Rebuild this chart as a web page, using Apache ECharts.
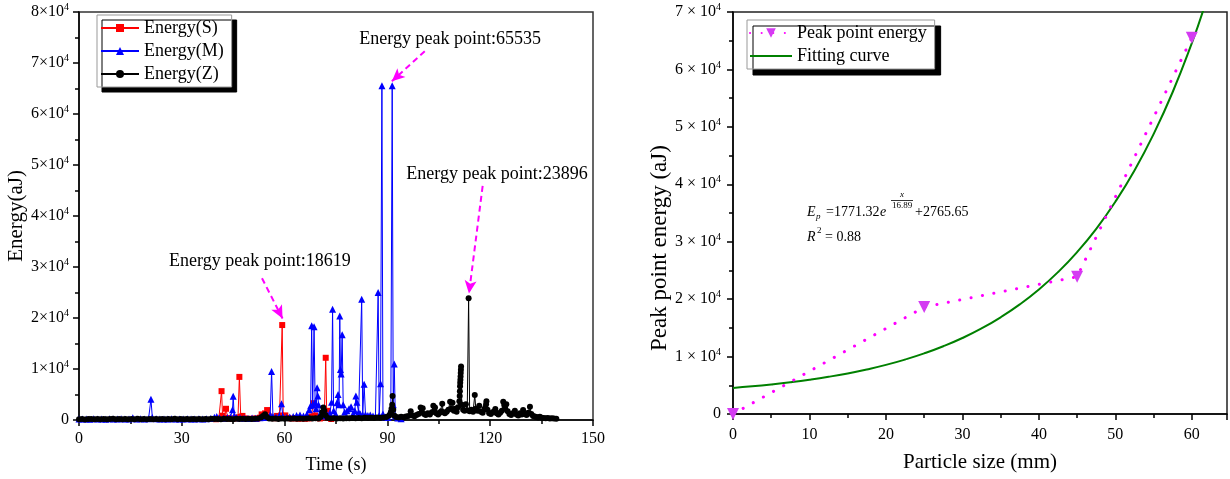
<!DOCTYPE html>
<html>
<head>
<meta charset="utf-8">
<title>Energy peak points and fitting curve</title>
<script src="https://cdn.jsdelivr.net/npm/echarts@6/dist/echarts.min.js"></script>
<style>
  html, body { margin: 0; padding: 0; background: #fff; }
  #chart { width: 1230px; height: 479px; }
</style>
</head>
<body>
<div id="chart"></div>
<script>
const FONT = 'Liberation Serif';

// Energy recorded by each channel: [time (s), energy (aJ)]
const energyS = [
  [40.0, 150], [40.8, 250], [41.3, 300], [41.6, 5660], [41.9, 850], [42.4, 300], [42.9, 2200], [43.4, 400],
  [44.2, 250], [45.0, 300], [45.8, 350], [46.4, 500], [46.8, 8450], [47.2, 600], [47.7, 800], [48.3, 300],
  [49.2, 250], [50.1, 200], [51.0, 300], [52.0, 250], [52.8, 450], [53.3, 1100], [53.8, 600], [54.3, 1300],
  [54.9, 1950], [55.4, 700], [56.2, 400], [57.0, 350], [57.8, 800], [58.5, 600], [59.0, 900], [59.3, 18619],
  [59.6, 700], [60.2, 900], [61.0, 400], [62.0, 300], [63.0, 350], [64.0, 250], [65.0, 300], [66.0, 250],
  [67.0, 300], [67.8, 700], [68.4, 3300], [68.9, 900], [69.5, 400], [70.3, 300], [71.0, 500], [71.6, 800],
  [72.0, 12200], [72.3, 900], [72.6, 1800], [73.0, 400], [73.6, 200]
];

const energyM = [
  [0.0, 200], [1.0, 180], [2.1, 220], [3.2, 160], [4.3, 240], [5.5, 190], [6.6, 210], [7.8, 170],
  [8.9, 230], [10.0, 200], [11.2, 180], [12.3, 250], [13.4, 190], [14.6, 210], [15.7, 420], [16.8, 200],
  [18.0, 230], [19.1, 190], [20.3, 260], [21.0, 4050], [21.4, 500], [22.5, 230], [23.6, 200], [24.8, 210],
  [25.9, 190], [27.0, 250], [28.2, 200], [29.3, 220], [30.4, 180], [31.6, 240], [32.7, 200], [33.8, 190],
  [35.0, 230], [36.1, 210], [37.2, 250], [38.4, 300], [39.5, 550], [40.2, 700], [41.0, 400], [42.2, 350],
  [43.3, 500], [44.2, 600], [44.8, 2000], [45.0, 4650], [45.3, 800], [46.0, 500], [47.0, 400], [48.2, 350],
  [49.3, 300], [50.5, 400], [51.6, 350], [52.8, 450], [54.0, 500], [55.0, 600], [55.8, 1000], [56.2, 9500],
  [56.6, 700], [57.5, 600], [58.4, 800], [59.1, 3200], [59.5, 700], [60.5, 500], [61.5, 600], [62.5, 700],
  [63.5, 900], [64.5, 1000], [65.5, 800], [66.5, 1100], [67.2, 2000], [67.6, 2800], [67.9, 18500], [68.2, 3000],
  [68.6, 18300], [68.9, 3500], [69.2, 2200], [69.5, 6300], [69.7, 4700], [69.9, 3000], [70.3, 1200], [71.0, 1500],
  [71.8, 800], [72.5, 1000], [73.2, 1300], [73.7, 3500], [74.0, 21700], [74.3, 1800], [74.9, 1200], [75.3, 3400],
  [75.6, 5000], [75.9, 3000], [76.1, 20400], [76.3, 9900], [76.5, 9000], [76.8, 16700], [77.1, 3000], [77.5, 1500],
  [78.2, 1800], [78.8, 2200], [79.4, 2600], [80.0, 1200], [80.5, 1800], [80.8, 4700], [81.1, 3500], [81.6, 1500],
  [82.1, 1200], [82.5, 23700], [82.8, 1000], [83.2, 7000], [83.6, 1100], [84.3, 900], [85.0, 1000], [85.8, 800],
  [86.5, 700], [87.3, 25000], [87.6, 900], [88.0, 7100], [88.4, 65535], [88.7, 1200], [89.4, 600], [90.2, 500],
  [91.0, 2000], [91.4, 65535], [91.7, 3000], [92.0, 11000], [92.3, 800], [93.0, 400], [94.0, 250]
];

const energyZ = [
  [0.0, 150], [0.9, 200], [1.8, 120], [2.7, 180], [3.6, 220], [4.5, 140], [5.4, 190], [6.3, 160],
  [7.2, 210], [8.1, 130], [9.0, 180], [9.9, 240], [10.8, 150], [11.7, 200], [12.6, 170], [13.5, 220],
  [14.4, 140], [15.3, 190], [16.2, 160], [17.1, 230], [18.0, 150], [18.9, 200], [19.8, 170], [20.7, 210],
  [21.6, 140], [22.5, 190], [23.4, 160], [24.3, 220], [25.2, 150], [26.1, 200], [27.0, 170], [27.9, 230],
  [28.8, 140], [29.7, 190], [30.6, 160], [31.5, 210], [32.4, 150], [33.3, 200], [34.2, 170], [35.1, 220],
  [36.0, 150], [36.9, 190], [37.8, 160], [38.7, 230], [39.6, 180], [40.5, 210], [41.4, 170], [42.3, 240],
  [43.2, 190], [44.1, 220], [45.0, 170], [45.9, 250], [46.8, 200], [47.7, 230], [48.6, 180], [49.5, 260],
  [50.4, 210], [51.3, 240], [52.2, 300], [53.1, 500], [53.7, 800], [54.3, 1150], [54.8, 600], [55.5, 300],
  [56.4, 250], [57.3, 280], [58.2, 220], [59.1, 300], [60.0, 250], [60.9, 280], [61.8, 230], [62.7, 300],
  [63.6, 260], [64.5, 310], [65.4, 250], [66.3, 290], [67.2, 320], [68.1, 280], [69.0, 350], [69.9, 300],
  [70.5, 600], [71.0, 1500], [71.3, 2450], [71.6, 1800], [72.0, 900], [72.6, 400], [73.5, 300], [74.4, 350],
  [75.3, 280], [76.2, 330], [77.1, 300], [78.0, 350], [78.9, 320], [79.8, 380], [80.7, 340], [81.6, 400],
  [82.5, 360], [83.4, 420], [84.3, 380], [85.2, 450], [86.1, 400], [87.0, 480], [87.9, 430], [88.8, 500],
  [89.7, 600], [90.5, 900], [91.0, 1500], [91.2, 2200], [91.4, 3000], [91.5, 4700], [91.7, 2000], [92.0, 900],
  [92.6, 600], [93.3, 500], [94.0, 650], [94.7, 550], [95.4, 700], [96.1, 800], [96.8, 1700], [97.3, 900],
  [97.9, 750], [98.5, 1000], [99.1, 1200], [99.7, 2450], [100.0, 1500], [100.3, 2300], [100.7, 1200], [101.2, 1000],
  [101.8, 1300], [102.4, 1100], [103.0, 1500], [103.4, 2770], [103.7, 1800], [103.9, 2450], [104.3, 1300], [104.8, 1100],
  [105.3, 1400], [105.7, 1700], [106.0, 3200], [106.3, 1500], [106.8, 1300], [107.3, 1600], [107.8, 2000], [108.3, 3600],
  [108.6, 2200], [109.0, 3400], [109.4, 1800], [109.8, 2200], [110.2, 1600], [110.6, 2500], [111.0, 3700], [111.1, 4700],
  [111.15, 5650], [111.2, 6600], [111.25, 7300], [111.3, 7900], [111.35, 8550], [111.4, 9200], [111.45, 9850], [111.5, 10500],
  [111.7, 3000], [112.1, 2000], [112.5, 1800], [112.9, 3100], [113.3, 1900], [113.7, 23896], [114.0, 1700], [114.5, 2000],
  [115.0, 1600], [115.5, 4900], [115.8, 2200], [116.3, 1800], [116.8, 2800], [117.3, 1600], [117.8, 1400], [118.3, 2100],
  [118.6, 2450], [118.8, 3100], [118.9, 3700], [119.2, 2000], [119.7, 1300], [120.2, 1200], [120.7, 1500], [121.2, 1700],
  [121.5, 2150], [121.9, 1300], [122.4, 1100], [122.9, 1400], [123.4, 1800], [123.8, 3600], [124.1, 2950], [124.4, 2200],
  [124.7, 3100], [125.1, 1700], [125.6, 1200], [126.1, 1000], [126.6, 1300], [127.2, 1800], [127.7, 1100], [128.2, 900],
  [128.7, 1300], [129.2, 1100], [129.6, 1950], [130.1, 1200], [130.6, 1000], [131.1, 1400], [131.6, 2600], [132.0, 1200],
  [132.5, 800], [133.0, 700], [133.5, 600], [134.0, 500], [134.5, 650], [135.0, 450], [135.6, 400], [136.2, 350],
  [136.8, 380], [137.4, 300], [138.0, 320], [138.6, 280], [139.3, 250]
];

// Peak point energy against particle size
const particleSize = [0, 25, 45, 60];
const peakEnergy = [0, 18619, 23896, 65535];

// Fitting curve sampled along particle size
const fitSize = [0, 2.5, 5, 7.5, 10, 12.5, 15, 17.5, 20, 22.5, 25, 27.5, 30, 32.5, 35, 37.5, 40, 42.5, 45, 47.5, 50, 52.5, 55, 57.5, 60, 61.5];
const fitEnergy = [4540, 4820, 5150, 5530, 5970, 6480, 7070, 7760, 8550, 9480, 10550, 11790, 13230, 14900,
  16840, 19080, 21680, 24700, 28200, 32250, 36960, 42410, 48740, 56070, 64580, 70320];

// Peak annotations on the time chart: label centre, arrow start, arrow tip (data units)
const peakNotes = [
  { series: 0, text: 'Energy peak point:18619', at: [52.8, 31100], from: [53.4, 27800], to: [59.4, 19900] },
  { series: 1, text: 'Energy peak point:65535', at: [108.3, 74600], from: [100.9, 72300], to: [91.3, 66400] },
  { series: 2, text: 'Energy peak point:23896', at: [122.0, 48100], from: [117.8, 45900], to: [113.8, 24800] }
];

const SERIES_NAMES = ['Energy(S)', 'Energy(M)', 'Energy(Z)'];
const SERIES_COLORS = ['#ff0000', '#0000ff', '#000000'];
const SERIES_SYMBOLS = ['rect', 'triangle', 'circle'];
const SERIES_DATA = [energyS, energyM, energyZ];

function sciLabel(sep) {
  return function (v) {
    if (v === 0) return '0';
    return (v / 10000) + sep + '×' + sep + '10{sup|4}';
  };
}

const axisText = { fontFamily: FONT, color: '#000' };
const lineStyleAxis = { color: '#000', width: 1.5 };

function valueAxis(extra) {
  return Object.assign({
    type: 'value',
    nameLocation: 'middle',
    nameTextStyle: Object.assign({}, axisText, { fontSize: 18 }),
    axisLine: { show: true, onZero: false, lineStyle: lineStyleAxis },
    axisTick: { show: true, inside: false, length: 6, lineStyle: lineStyleAxis },
    minorTick: { show: true, splitNumber: 2, length: 4, lineStyle: lineStyleAxis },
    splitLine: { show: false },
    minorSplitLine: { show: false }
  }, extra);
}

const timeSeries = SERIES_DATA.map((data, i) => {
  const notes = peakNotes.filter(n => n.series === i);
  return {
    name: SERIES_NAMES[i],
    type: 'line',
    xAxisIndex: 0,
    yAxisIndex: 0,
    data: data,
    symbol: SERIES_SYMBOLS[i],
    symbolSize: i === 1 ? 7 : 6,
    showSymbol: true,
    showAllSymbol: true,
    color: SERIES_COLORS[i],
    lineStyle: { width: 1, color: SERIES_COLORS[i] },
    itemStyle: { color: SERIES_COLORS[i] },
    z: 2 + i,
    markLine: {
      silent: true,
      symbol: ['none', 'arrow'],
      symbolSize: [9, 13],
      lineStyle: { color: '#ff00ff', type: [6, 4], width: 2 },
      label: { show: false },
      data: notes.map(n => [{ coord: n.from }, { coord: n.to }])
    },
    markPoint: {
      silent: true,
      symbol: 'rect',
      symbolSize: 1,
      itemStyle: { color: 'rgba(0,0,0,0)' },
      label: { show: true, position: 'inside', color: '#000', fontFamily: FONT, fontSize: 18 },
      data: notes.map(n => ({ coord: n.at, label: { formatter: n.text } }))
    }
  };
});

const chart = echarts.init(document.getElementById('chart'), null, { renderer: 'canvas' });

chart.setOption({
  animation: false,
  backgroundColor: '#fff',
  grid: [
    { left: 79, right: 637, top: 12, bottom: 53, show: true, borderColor: '#333', borderWidth: 1.5, backgroundColor: 'transparent' },
    { left: 733, right: 0, top: 12, bottom: 65, show: true, borderColor: '#222', borderWidth: 1.5, backgroundColor: 'transparent' }
  ],
  legend: [
    {
      data: SERIES_NAMES,
      orient: 'vertical',
      left: 97, top: 15,
      itemWidth: 38, itemHeight: 10, itemGap: 5,
      padding: [4, 8, 4, 3],
      textStyle: { fontFamily: FONT, fontSize: 18, color: '#000' },
      backgroundColor: '#fff',
      borderColor: '#999', borderWidth: 1,
      shadowColor: '#000', shadowBlur: 0, shadowOffsetX: 5, shadowOffsetY: 5
    },
    {
      data: ['Peak point energy', { name: 'Fitting curve', itemStyle: { opacity: 0 } }],
      orient: 'vertical',
      left: 747, top: 20,
      itemWidth: 42, itemHeight: 12, itemGap: 5,
      padding: [4, 8, 4, 2],
      textStyle: { fontFamily: FONT, fontSize: 18, color: '#000' },
      backgroundColor: '#fff',
      borderColor: '#999', borderWidth: 1,
      shadowColor: '#000', shadowBlur: 0, shadowOffsetX: 6, shadowOffsetY: 6
    }
  ],
  xAxis: [
    valueAxis({
      gridIndex: 0, min: 0, max: 150, interval: 30,
      name: 'Time (s)', nameGap: 36,
      axisLabel: Object.assign({}, axisText, { fontSize: 16, margin: 11 })
    }),
    valueAxis({
      gridIndex: 1, min: 0, max: 64.6, interval: 10,
      name: 'Particle size (mm)', nameGap: 38,
      nameTextStyle: Object.assign({}, axisText, { fontSize: 21 }),
      axisLabel: Object.assign({}, axisText, {
        fontSize: 16, margin: 13,
        formatter: v => (v % 10 === 0 ? String(v) : '')
      })
    })
  ],
  yAxis: [
    valueAxis({
      gridIndex: 0, min: 0, max: 80000, interval: 10000,
      name: 'Energy(aJ)', nameGap: 50,
      nameTextStyle: Object.assign({}, axisText, { fontSize: 21 }),
      axisLabel: Object.assign({}, axisText, {
        fontSize: 16, margin: 10,
        formatter: sciLabel(''),
        rich: { sup: { fontFamily: FONT, fontSize: 10, color: '#000', padding: [0, 0, 9, 0] } }
      })
    }),
    valueAxis({
      gridIndex: 1, min: 0, max: 70000, interval: 10000,
      name: 'Peak point energy (aJ)', nameGap: 62,
      nameTextStyle: Object.assign({}, axisText, { fontSize: 23, padding: [0, 70, 0, 0] }),
      axisLabel: Object.assign({}, axisText, {
        fontSize: 16, margin: 12,
        formatter: sciLabel(' '),
        rich: { sup: { fontFamily: FONT, fontSize: 10, color: '#000', padding: [0, 0, 9, 0] } }
      })
    })
  ],
  series: timeSeries.concat([
    {
      name: 'Peak point energy',
      type: 'line',
      xAxisIndex: 1, yAxisIndex: 1,
      data: particleSize.map((x, i) => [x, peakEnergy[i]]),
      symbol: 'triangle', symbolRotate: 180, symbolSize: 12,
      color: '#d43cf2',
      itemStyle: { color: '#d43cf2' },
      lineStyle: { color: '#ff00ff', width: 3, type: [0.1, 11.5], cap: 'round' },
      z: 3
    },
    {
      name: 'Fitting curve',
      type: 'line',
      xAxisIndex: 1, yAxisIndex: 1,
      data: fitSize.map((x, i) => [x, fitEnergy[i]]),
      smooth: true,
      showSymbol: false,
      symbol: 'none',
      color: '#008000',
      lineStyle: { color: '#008000', width: 2 },
      z: 2
    }
  ]),
  graphic: [
    { type: 'text', x: 807, y: 212, style: { text: 'E', fontFamily: FONT, fontSize: 14, fontStyle: 'italic', fill: '#000', verticalAlign: 'middle' } },
    { type: 'text', x: 816, y: 217, style: { text: 'p', fontFamily: FONT, fontSize: 9, fontStyle: 'italic', fill: '#000', verticalAlign: 'middle' } },
    { type: 'text', x: 826, y: 212, style: { text: '=1771.32', fontFamily: FONT, fontSize: 14, fill: '#000', verticalAlign: 'middle' } },
    { type: 'text', x: 880, y: 212, style: { text: 'e', fontFamily: FONT, fontSize: 14, fontStyle: 'italic', fill: '#000', verticalAlign: 'middle' } },
    { type: 'text', x: 902, y: 195, style: { text: 'x', fontFamily: FONT, fontSize: 9, fontStyle: 'italic', fill: '#000', align: 'center', verticalAlign: 'middle' } },
    { type: 'line', shape: { x1: 891, y1: 200.5, x2: 913, y2: 200.5 }, style: { stroke: '#000', lineWidth: 0.8 } },
    { type: 'text', x: 902, y: 206, style: { text: '16.89', fontFamily: FONT, fontSize: 9, fill: '#000', align: 'center', verticalAlign: 'middle' } },
    { type: 'text', x: 915, y: 212, style: { text: '+2765.65', fontFamily: FONT, fontSize: 14, fill: '#000', verticalAlign: 'middle' } },
    { type: 'text', x: 807, y: 237, style: { text: 'R', fontFamily: FONT, fontSize: 14, fontStyle: 'italic', fill: '#000', verticalAlign: 'middle' } },
    { type: 'text', x: 817, y: 231, style: { text: '2', fontFamily: FONT, fontSize: 9, fill: '#000', verticalAlign: 'middle' } },
    { type: 'text', x: 825, y: 237, style: { text: '= 0.88', fontFamily: FONT, fontSize: 14, fill: '#000', verticalAlign: 'middle' } }
  ]
});
</script>
</body>
</html>
